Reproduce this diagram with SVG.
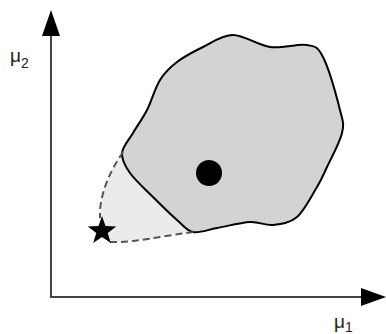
<svg xmlns="http://www.w3.org/2000/svg" width="386" height="334" viewBox="0 0 386 334">
<style>
.axis{stroke:#444;stroke-width:2;fill:none}
.head{fill:#000}
.lbl{font-family:"Liberation Sans",Arial,sans-serif;fill:#222}
.dash{stroke:#555;stroke-width:2;fill:none;stroke-dasharray:7 4}
</style>
<rect width="386" height="334" fill="#fff"/>
<g id="axes">
<line class="axis" x1="51" y1="298" x2="51" y2="34"/>
<polygon class="head" points="51,10 42,36 60,36"/>
<line class="axis" x1="50" y1="297" x2="362" y2="297"/>
<polygon class="head" points="386,297 361,288 361,306"/>
</g>
<g id="label-mu2"><text class="lbl" x="10" y="62" font-size="19">μ<tspan font-size="14" dy="6">2</tspan></text></g>
<g id="label-mu1"><text class="lbl" x="334" y="328" font-size="19">μ<tspan font-size="14" dy="4">1</tspan></text></g>
<g id="light-region">
<path d="M124,150 C112,168 102,188 100,212 L101,238 C115,244 150,240 175,234 L205,232 L205,170 Z" fill="#ebebeb"/>
</g>
<g id="region">
<path d="M233,35 C244.2,35 257.7,45.3 270,47 C282.3,48.7 298.2,43.3 307,45 C315.8,46.7 317.5,46.2 323,57 C328.5,67.8 336.8,97.3 340,110 C343.2,122.7 344.2,123.5 342,133 C339.8,142.5 331.2,158 327,167 C322.8,176 322,178.7 317,187 C312,195.3 304.3,210.7 297,217 C289.7,223.3 280.8,224.2 273,225 C265.2,225.8 259.3,221.5 250,222 C240.7,222.5 226.5,226.3 217,228 C207.5,229.7 199.7,233.3 193,232 C186.3,230.7 183.7,225.8 177,220 C170.3,214.2 160.8,204.8 153,197 C145.2,189.2 135.2,180.3 130,173 C124.8,165.7 121.5,159.7 122,153 C122.5,146.3 128.8,140.2 133,133 C137.2,125.8 142.5,118.8 147,110 C151.5,101.2 155,88 160,80 C165,72 169.8,67.5 177,62 C184.2,56.5 193.7,51.5 203,47 C212.3,42.5 221.8,35 233,35 Z" fill="#d3d3d3" stroke="#000" stroke-width="2"/>
</g>
<g id="connectors">
<path class="dash" d="M123,152 C112,168 102,188 100,210 L100,218"/>
<path class="dash" d="M110,242 C135,243 160,236 194,232"/>
</g>
<g id="mean-dot"><circle cx="209" cy="173" r="13" fill="#000"/></g>
<g id="star"><polygon points="102,216 105.5,226.1 116.3,226.4 107.7,232.9 110.8,243.1 102,237 93.2,243.1 96.3,232.9 87.7,226.4 98.5,226.1" fill="#000"/></g>
</svg>
